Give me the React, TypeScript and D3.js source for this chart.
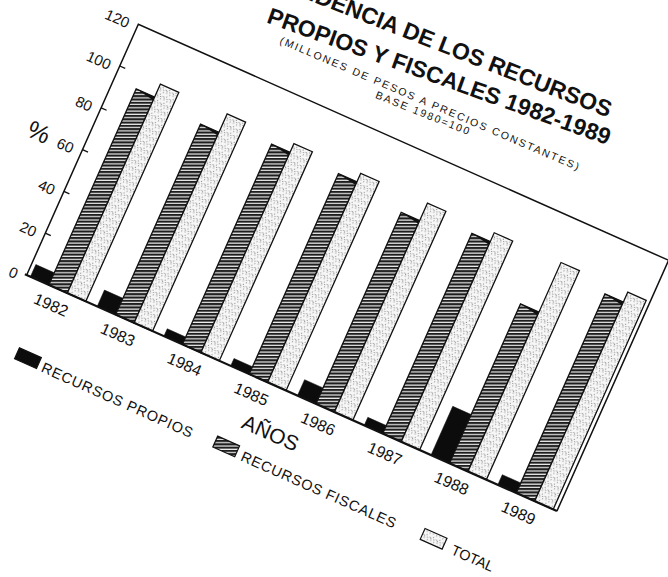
import React from "react";
import * as d3 from "d3";

const years = ["1982", "1983", "1984", "1985", "1986", "1987", "1988", "1989"];
const propios = [5.8, 7.8, 3.5, 3.5, 7.6, 3.8, 23.3, 4.8];
const fiscales = [93.8, 91.2, 95.8, 95.9, 91.6, 95.8, 76.3, 95.3];
const total = [100, 100, 100, 100, 100, 100, 100, 100];
const yTicks = [0, 20, 40, 60, 80, 100];
const yLabels = [0, 20, 40, 60, 80, 100, 120];
const seriesKeys = ["propios", "fiscales", "total"];
const legendLabels = ["RECURSOS PROPIOS", "RECURSOS FISCALES", "TOTAL"];
const titleLines = ["TENDENCIA DE LOS RECURSOS", "PROPIOS Y FISCALES 1982-1989"];
const subtitleLines = ["(MILLONES DE PESOS A PRECIOS CONSTANTES)", "BASE 1980=100"];
const xTitle = "AÑOS";
const yTitle = "%";

const stippleDots = [
  [1, 1], [4.6, 1.8], [2.4, 4.2], [6.1, 5.4], [0.6, 6.3], [3.8, 6.6],
];

export default function App() {
  const W = 580.4;
  const H = 274.5;
  const x = d3.scaleBand<string>().domain(years).range([0, W]).paddingInner(0.171).paddingOuter(0.056);
  const xs = d3.scaleBand<string>().domain(seriesKeys).range([0, x.bandwidth()]);
  const y = d3.scaleLinear().domain([0, 120]).range([0, -H]);
  const seriesData: Record<string, number[]> = { propios, fiscales, total };
  const fills: Record<string, string> = { propios: "#0c0c0c", fiscales: "url(#hatch)", total: "url(#stipple)" };
  const font = "'Liberation Sans', Arial, sans-serif";
  const bw = xs.bandwidth();

  const legendSquareX = [23, 240, 467];
  const legendTextX = [51.5, 270, 500];
  const legendTextLen = [164, 168, 45];

  return (
    <svg
      width={668}
      height={577}
      style={{ position: "absolute", left: 0, top: 0 }}
      fontFamily={font}
    >
      <defs>
        <pattern id="hatch" patternUnits="userSpaceOnUse" width={6} height={3.3} patternTransform="rotate(-24)">
          <rect width={6} height={3.3} fill="#1e1e1e" />
          <rect y={2.1} width={6} height={1.2} fill="#eeeeee" />
        </pattern>
        <pattern id="stipple" patternUnits="userSpaceOnUse" width={7} height={7}>
          <rect width={7} height={7} fill="#f7f7f7" />
          {stippleDots.map((d, i) => (
            <circle key={i} cx={d[0]} cy={d[1]} r={0.5} fill="#555" />
          ))}
        </pattern>
      </defs>
      <rect width={668} height={577} fill="#ffffff" />

      <g transform="translate(26.7,275) rotate(24)">
        {/* bars */}
        {years.map((yr, i) => (
          <g key={yr} transform={`translate(${x(yr)},0)`}>
            {seriesKeys.map((k) => {
              const v = seriesData[k][i];
              const bx = xs(k) as number;
              const top = y(v);
              return (
                <g key={k}>
                  <rect
                    x={bx}
                    y={top}
                    width={bw}
                    height={-top}
                    fill={fills[k]}
                    stroke="#111"
                    strokeWidth={k === "propios" ? 0.5 : 1.3}
                  />
                  {k === "fiscales" && (
                    <polygon
                      points={`${bx},${top} ${bx + bw},${top} ${bx + bw},${top + 3.5} ${bx + bw * 0.45},${top + 1.6}`}
                      fill="#111"
                    />
                  )}
                </g>
              );
            })}
          </g>
        ))}

        {/* frame */}
        <path d={`M0,0 V${-H} H${W} V0`} fill="none" stroke="#111" strokeWidth={1.5} />
        <line x1={-2} y1={0} x2={W} y2={0} stroke="#111" strokeWidth={2.2} />

        {/* y ticks */}
        {yTicks.map((t) => (
          <line key={t} x1={0} x2={6} y1={y(t)} y2={y(t)} stroke="#111" strokeWidth={1.3} />
        ))}
        {yLabels.map((t) => (
          <text key={t} x={-9} y={y(t) + 8.5} textAnchor="end" fontSize={15} fill="#111">
            {t}
          </text>
        ))}
        <text x={-47} y={y(59) + 8} textAnchor="middle" fontSize={25} fill="#111">
          {yTitle}
        </text>

        {/* year labels */}
        {years.map((yr) => (
          <text key={yr} x={(x(yr) as number) + x.bandwidth() / 2} y={23} textAnchor="middle" fontSize={16} fill="#111">
            {yr}
          </text>
        ))}
        <text x={287} y={52.5} textAnchor="middle" fontSize={21} fill="#111">
          {xTitle}
        </text>

        {/* legend */}
        {seriesKeys.map((k, i) => (
          <g key={k}>
            <rect
              x={legendSquareX[i]}
              y={69.5}
              width={24}
              height={12}
              fill={fills[k]}
              stroke="#111"
              strokeWidth={1.2}
            />
            <text
              x={legendTextX[i]}
              y={82.5}
              fontSize={14.5}
              fill="#111"
              textLength={legendTextLen[i]}
              lengthAdjust="spacing"
            >
              {legendLabels[i]}
            </text>
          </g>
        ))}
      </g>

      {/* title */}
      <text
        transform="translate(608,117.5) rotate(21.4)"
        textAnchor="end"
        fontSize={23}
        fontWeight="bold"
        fill="#111"
      >
        {titleLines[0]}
      </text>
      <text
        transform="translate(436.5,83.7) rotate(19.8)"
        textAnchor="middle"
        fontSize={23}
        fontWeight="bold"
        fill="#111"
        textLength={363}
        lengthAdjust="spacing"
      >
        {titleLines[1]}
      </text>
      <text
        transform="translate(428.1,106.7) rotate(23.1)"
        textAnchor="middle"
        fontSize={10.5}
        fill="#111"
        textLength={324}
        lengthAdjust="spacing"
      >
        {subtitleLines[0]}
      </text>
      <text
        transform="translate(421.2,116.4) rotate(21.8)"
        textAnchor="middle"
        fontSize={10.5}
        fill="#111"
        textLength={100}
        lengthAdjust="spacing"
      >
        {subtitleLines[1]}
      </text>
    </svg>
  );
}
